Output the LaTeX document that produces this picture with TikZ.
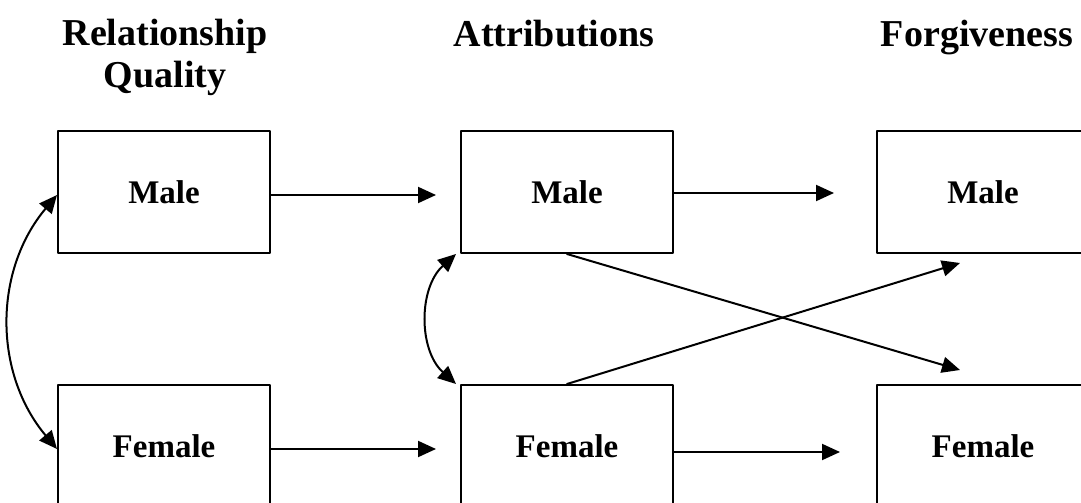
\documentclass[tikz,border=0pt]{standalone}
\usepackage{fontspec}
\setmainfont{Liberation Serif}
\usetikzlibrary{arrows.meta}

\tikzset{
  box/.style={draw, line width=1pt, minimum width=106pt, minimum height=61pt,
              font=\fontsize{16.5}{18}\selectfont\bfseries},
  head/.style={align=center, font=\fontsize{19}{21}\selectfont\bfseries},
  path/.style={line width=1pt, -{Triangle[length=9pt,width=8pt]}},
  corr/.style={line width=1pt, {Triangle[length=9pt,width=8pt]}-{Triangle[length=9pt,width=8pt]}}
}

\begin{document}
\begin{tikzpicture}[x=0.5pt,y=0.5pt, line cap=round, line join=round]

% -----------------------------
% Frame (boxes on the right run off the page)
% -----------------------------
\clip (0,0) rectangle (1081,503);

% -----------------------------
% Column headings
% -----------------------------
\node[head] (hqual) at (165,446) {Relationship\\Quality};
\node[head, anchor=base] (hattr) at (554,456) {Attributions};
\node[head, anchor=base] (hforg) at (977,456) {Forgiveness};

% -----------------------------
% Boxes
% -----------------------------
\node[box] (qm) at (164,311) {Male};
\node[box] (qf) at (164,57)  {Female};
\node[box] (am) at (567,311) {Male};
\node[box] (af) at (567,57)  {Female};
\node[box] (fm) at (983,311) {Male};
\node[box] (ff) at (983,57)  {Female};

% free ends of the crossed paths
\coordinate (tipfm) at (960,240);
\coordinate (tipff) at (960,133);

% -----------------------------
% Paths
% -----------------------------
\draw[path, shorten >=12pt] ([yshift=-1.5pt]qm.east) -- ([yshift=-1.5pt]qm.east -| am.west);
\draw[path, shorten >=12pt] ([yshift=-1.5pt]qf.east) -- ([yshift=-1.5pt]qf.east -| af.west);
\draw[path, shorten >=21pt] ([yshift=-0.5pt]am.east) -- ([yshift=-0.5pt]am.east -| fm.west);
\draw[path, shorten >=18pt] ([yshift=-3pt]af.east) -- ([yshift=-3pt]af.east -| ff.west);

\draw[path] (am.south) -- (tipff);
\draw[path] (af.north) -- (tipfm);

% correlations
\draw[corr] ([yshift=-1.5pt]qm.west) to[bend right=40] ([yshift=-1.5pt]qf.west);
\draw[corr] ([xshift=-2pt]am.south west) to[bend right=48] ([xshift=-2pt]af.north west);

\end{tikzpicture}
\end{document}
